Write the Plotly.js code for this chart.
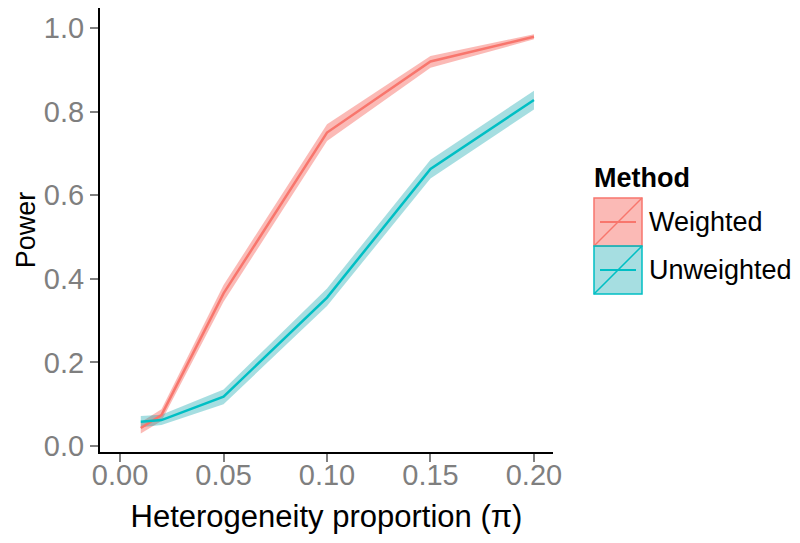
<!DOCTYPE html>
<html>
<head>
<meta charset="utf-8">
<script src="https://cdn.plot.ly/plotly-3.0.1.min.js"></script>
<style>html,body{margin:0;padding:0;background:#fff;}#chart{width:800px;height:543px;}</style>
</head>
<body>
<div id="chart"></div>
<script>
const proportion = [0.01, 0.02, 0.05, 0.10, 0.15, 0.20];
const weightedPower = [0.043, 0.074, 0.365, 0.750, 0.920, 0.979];
const weightedLower = [0.030, 0.060, 0.345, 0.730, 0.905, 0.973];
const weightedUpper = [0.057, 0.088, 0.385, 0.770, 0.933, 0.985];
const unweightedPower = [0.058, 0.062, 0.118, 0.355, 0.663, 0.828];
const unweightedLower = [0.045, 0.050, 0.100, 0.335, 0.640, 0.805];
const unweightedUpper = [0.072, 0.075, 0.135, 0.377, 0.685, 0.850];
const xTicks = [0.00, 0.05, 0.10, 0.15, 0.20];
const yTicks = [0.0, 0.2, 0.4, 0.6, 0.8, 1.0];
const methods = ['Weighted', 'Unweighted'];

const red = '#F8766D', cyan = '#00BFC4';
const redFill = 'rgba(248,118,109,0.5)', cyanFill = 'rgba(0,160,170,0.35)';

function ribbon(lo, hi, fill) {
  return [
    {x: proportion, y: lo, mode: 'lines', line: {width: 0}, showlegend: false, hoverinfo: 'skip'},
    {x: proportion, y: hi, mode: 'lines', line: {width: 0}, fill: 'tonexty', fillcolor: fill, showlegend: false, hoverinfo: 'skip'}
  ];
}

const data = [
  ...ribbon(weightedLower, weightedUpper, redFill),
  ...ribbon(unweightedLower, unweightedUpper, cyanFill),
  {x: proportion, y: weightedPower, mode: 'lines', name: methods[0], line: {color: red, width: 2.5}, showlegend: false},
  {x: proportion, y: unweightedPower, mode: 'lines', name: methods[1], line: {color: cyan, width: 2.5}, showlegend: false}
];

// legend drawn as shapes in paper coords
const L = 100, R = 553, T = 8, B = 452;
const px = X => (X - L) / (R - L);
const py = Y => (B - Y) / (B - T);
const shapes = [];
const annotations = [];
const keys = [{top: 198, bot: 246, c: red, f: redFill}, {top: 246, bot: 294, c: cyan, f: cyanFill}];
keys.forEach((k, i) => {
  shapes.push({type: 'rect', xref: 'paper', yref: 'paper', x0: px(594), x1: px(642), y0: py(k.bot), y1: py(k.top), fillcolor: k.f, line: {color: k.c, width: 1.5}});
  shapes.push({type: 'line', xref: 'paper', yref: 'paper', x0: px(594), x1: px(642), y0: py(k.bot), y1: py(k.top), line: {color: k.c, width: 1.5}});
  shapes.push({type: 'line', xref: 'paper', yref: 'paper', x0: px(600), x1: px(636), y0: py((k.top + k.bot) / 2), y1: py((k.top + k.bot) / 2), line: {color: k.c, width: 2}});
  annotations.push({xref: 'paper', yref: 'paper', x: px(647), y: py((k.top + k.bot) / 2), xanchor: 'left', yanchor: 'middle', text: methods[i], showarrow: false, font: {size: 27, color: '#000'}});
});
annotations.push({xref: 'paper', yref: 'paper', x: px(592), y: py(178), xanchor: 'left', yanchor: 'middle', text: '<b>Method</b>', showarrow: false, font: {size: 27, color: '#000'}});

const layout = {
  width: 800, height: 543,
  margin: {l: L, r: 800 - R, t: T, b: 543 - B},
  paper_bgcolor: '#fff', plot_bgcolor: '#fff',
  font: {family: 'Liberation Sans, Arial, sans-serif', color: '#000'},
  showlegend: false,
  xaxis: {
    range: [-0.0097, 0.2092], tickvals: xTicks, ticktext: xTicks.map(v => v.toFixed(2)),
    showgrid: false, zeroline: false, showline: true, linecolor: '#000', linewidth: 2,
    ticks: 'outside', ticklen: 8, tickwidth: 2, tickcolor: '#7f7f7f',
    ticklabelstandoff: -12,
    tickfont: {size: 29, color: '#7f7f7f'},
    title: {text: 'Heterogeneity proportion (π)', font: {size: 31, color: '#000'}, standoff: 16}
  },
  yaxis: {
    range: [-0.0144, 1.048], tickvals: yTicks, ticktext: yTicks.map(v => v.toFixed(1)),
    showgrid: false, zeroline: false, showline: true, linecolor: '#000', linewidth: 2,
    ticks: 'outside', ticklen: 8, tickwidth: 2, tickcolor: '#7f7f7f',
    tickfont: {size: 29, color: '#7f7f7f'},
    title: {text: 'Power', font: {size: 27, color: '#000'}, standoff: 0}
  },
  shapes: shapes,
  annotations: annotations
};

Plotly.newPlot('chart', data, layout, {displayModeBar: false, staticPlot: true});
</script>
</body>
</html>
